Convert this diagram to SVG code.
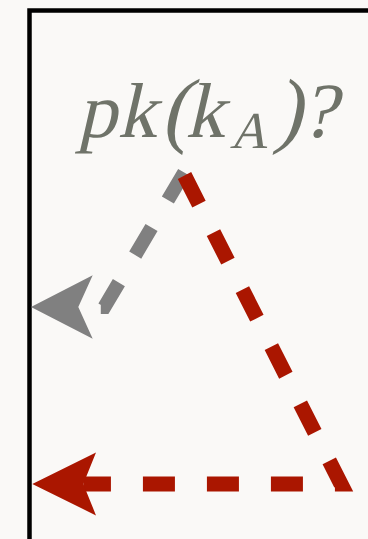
<svg xmlns="http://www.w3.org/2000/svg" width="368" height="539" viewBox="0 0 368 539">
  <style>
    .frame { fill: none; stroke: #000000; stroke-width: 4.5; stroke-linejoin: miter; }
    .dash { fill: none; stroke-dasharray: 32 32; stroke-linecap: butt; stroke-linejoin: miter; }
    .gray { stroke: #808080; stroke-width: 14; }
    .red { stroke: #aa1600; stroke-width: 15; }
  </style>
  <defs>
    <marker id="ahGray" markerUnits="userSpaceOnUse" orient="auto" overflow="visible" markerWidth="10" markerHeight="10" refX="0" refY="0">
      <path d="M47.3,0 L-14.4,-31.7 L0,0 L-14.4,31.7 Z" fill="#808080"/>
    </marker>
    <marker id="ahRed" markerUnits="userSpaceOnUse" orient="auto" overflow="visible" markerWidth="10" markerHeight="10" refX="0" refY="0">
      <path d="M51,0 L-12.7,-31.4 L0,0 L-12.7,31.4 Z" fill="#aa1600"/>
    </marker>
  </defs>
  <rect x="0" y="0" width="368" height="539" fill="#faf9f7"/>
  <g id="frame">
    <path class="frame" d="M29.5,539 V10.5 H372"/>
  </g>
  <g id="label" transform="matrix(1,0,-0.2309,1,31.63,0)">
    <text font-family="Liberation Serif, DejaVu Serif, serif" fill="#6f7369" text-anchor="middle" font-size="78" y="137"><tspan x="97">p</tspan><tspan x="137">k</tspan><tspan x="175" font-size="84">(</tspan><tspan x="205">k</tspan><tspan x="251" y="148" font-size="52">A</tspan><tspan x="288" y="137" font-size="84">)</tspan><tspan x="319">?</tspan></text>
  </g>
  <g id="connectors">
    <path id="gray-arrow" class="dash gray" d="M184.2,172.5 L104.4,307 L78.3,307" marker-end="url(#ahGray)"/>
    <path id="red-arrow" class="dash red" d="M184.5,175.5 L341,484 L83.3,484" marker-end="url(#ahRed)"/>
  </g>
</svg>
